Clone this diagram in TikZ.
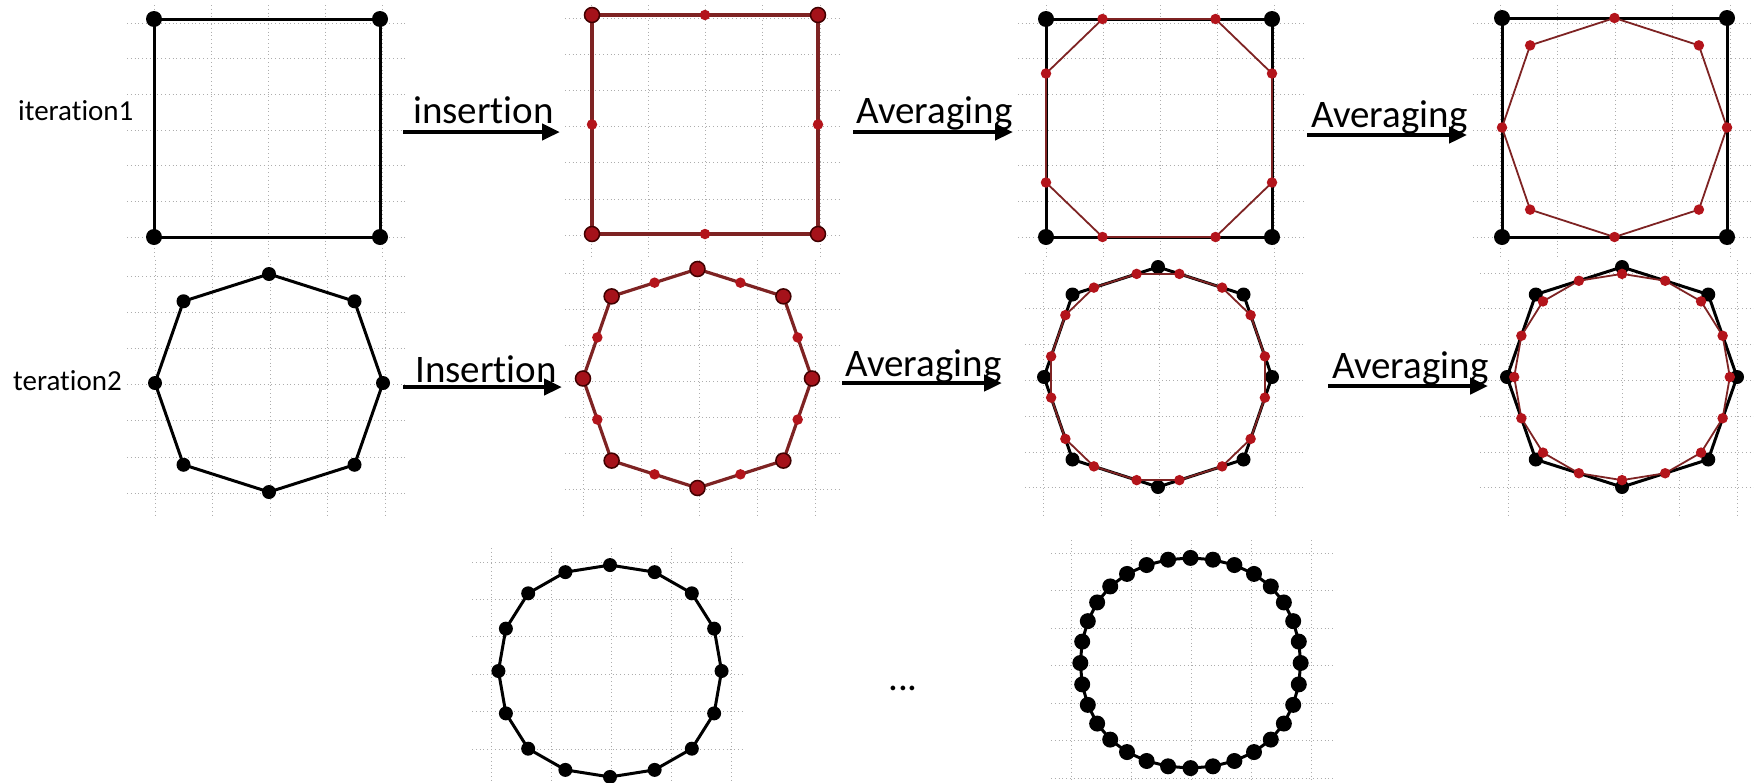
\documentclass[tikz,border=0pt]{standalone}
\usepackage{fontspec}
\setmainfont{Carlito}[Ligatures={NoCommon}]
\usetikzlibrary{arrows.meta,calc}
\definecolor{rdot}{HTML}{B3141B}
\definecolor{rline}{HTML}{7E2323}
\definecolor{rbigfill}{HTML}{A5121A}
\definecolor{gridc}{HTML}{ADADAD}
\tikzset{
 gridl/.style={gridc, line width=0.9pt, dash pattern=on 1pt off 2.8pt},
 blk/.style={black, line width=3pt, line cap=round, line join=round},
 rthick/.style={rline, line width=3.2pt, line cap=round},
 rthin/.style={rline, line width=1.8pt, line cap=round},
 bdot/.style={circle, fill=black, inner sep=0pt, minimum size=16pt},
 bdotm/.style={circle, fill=black, inner sep=0pt, minimum size=14pt},
 rbig/.style={circle, fill=rbigfill, draw=black!75!red, line width=1.5pt, inner sep=0pt, minimum size=15pt},
 rsm/.style={circle, fill=rdot, inner sep=0pt, minimum size=10.5pt},
 lbl/.style={font=\fontsize{39}{47}\selectfont, anchor=base west, inner sep=0pt},
 itl/.style={font=\fontsize{29}{35}\selectfont, anchor=base west, inner sep=0pt},
 flow/.style={line width=4.5pt, -{Triangle[length=18pt,width=16pt]}},
}
\newcommand\mygrid[8]{%
 \foreach \k in {0,...,6}{\draw[gridl] (#1,{#3+\k*#4}) -- (#2,{#3+\k*#4});}%
 \foreach \k in {0,...,4}{\draw[gridl] ({#5+\k*#6},#7) -- ({#5+\k*#6},#8);}%
}
\newcommand\pts[2]{\foreach \px/\py [count=\i] in #2 {\coordinate (#1-\i) at (\px,\py);}}
\newcommand\ring[3]{\foreach \i in {1,...,#2}{\pgfmathtruncatemacro\j{mod(\i,#2)+1}\draw[#3] (#1-\i) -- (#1-\j);}}
\newcommand\dotring[3]{\foreach \i in {1,...,#2}{\node[#3] (#1d-\i) at (#1-\i) {};}}
\def\Sfour{0/0,1/0,1/1,0/1}
\def\Seight{0/0,0.5/0,1/0,1/0.5,1/1,0.5/1,0/1,0/0.5}
\def\Ceight{0.25/0,0.75/0,1/0.25,1/0.75,0.75/1,0.25/1,0/0.75,0/0.25}
\def\Oeight{0.5/0,0.875/0.125,1/0.5,0.875/0.875,0.5/1,0.125/0.875,0/0.5,0.125/0.125}
\def\Osixteen{0.5/0,0.6875/0.0625,0.875/0.125,0.9375/0.3125,1/0.5,0.9375/0.6875,0.875/0.875,0.6875/0.9375,0.5/1,0.3125/0.9375,0.125/0.875,0.0625/0.6875,0/0.5,0.0625/0.3125,0.125/0.125,0.3125/0.0625}
\def\Csixteen{0.59375/0.03125,0.78125/0.09375,0.90625/0.21875,0.96875/0.40625,0.96875/0.59375,0.90625/0.78125,0.78125/0.90625,0.59375/0.96875,0.40625/0.96875,0.21875/0.90625,0.09375/0.78125,0.03125/0.59375,0.03125/0.40625,0.09375/0.21875,0.21875/0.09375,0.40625/0.03125}
\def\Asixteen{0.5/0.03125,0.6875/0.0625,0.84375/0.15625,0.9375/0.3125,0.96875/0.5,0.9375/0.6875,0.84375/0.84375,0.6875/0.9375,0.5/0.96875,0.3125/0.9375,0.15625/0.84375,0.0625/0.6875,0.03125/0.5,0.0625/0.3125,0.15625/0.15625,0.3125/0.0625}
\begin{document}
\begin{tikzpicture}[x=1pt,y=-1pt]
\useasboundingbox[fill=white] (0,0) rectangle (1754,782);
% grids
\mygrid{127}{405}{23}{35.7}{154}{57}{5}{257}
\mygrid{565}{842}{18}{36.2}{591}{57.3}{5}{257}
\mygrid{1018}{1306}{23}{35.7}{1046}{57}{5}{257}
\mygrid{1473}{1754}{23}{35.7}{1500}{57.5}{5}{257}
\mygrid{127}{408}{276}{36.2}{155}{57.5}{260}{515}
\mygrid{565}{840}{273}{36}{583}{58}{260}{515}
\mygrid{1025}{1305}{273}{35.8}{1043}{58}{260}{515}
\mygrid{1480}{1754}{273}{35.8}{1508}{57.3}{260}{515}
\mygrid{472}{745}{562}{37.4}{491}{60}{548}{782}
\mygrid{1051}{1333}{553}{37.5}{1071}{60}{540}{782}
% labels
\node[itl] (it1) at (18,120) {iteration1};
\node[itl] (it2) at (13,390) {teration2};
% row 1 panel 1
\begin{scope}[shift={(154,19)}, x=226pt, y=-218pt]
 \pts{pa}{\Sfour}
 \ring{pa}{4}{blk}
 \dotring{pa}{4}{bdot}
\end{scope}
% row 1 panel 2
\begin{scope}[shift={(592,15)}, x=226pt, y=-219pt]
 \pts{pb}{\Seight}
 \ring{pb}{8}{rthick}
 \foreach \i in {1,3,5,7}{\node[rbig] (pbd-\i) at (pb-\i) {};}
 \foreach \i in {2,4,6,8}{\node[rsm] (pbd-\i) at (pb-\i) {};}
\end{scope}
% row 1 panel 3
\begin{scope}[shift={(1046,19)}, x=226pt, y=-218pt]
 \pts{pc}{\Sfour}
 \pts{qc}{\Ceight}
 \ring{pc}{4}{blk}
 \ring{qc}{8}{rthin}
 \dotring{pc}{4}{bdot}
 \dotring{qc}{8}{rsm}
\end{scope}
% row 1 panel 4
\begin{scope}[shift={(1502,18)}, x=225pt, y=-219pt]
 \pts{pd}{\Sfour}
 \pts{qd}{\Oeight}
 \ring{pd}{4}{blk}
 \ring{qd}{8}{rthin}
 \dotring{pd}{4}{bdot}
 \dotring{qd}{8}{rsm}
\end{scope}
% row 2 panel 1
\begin{scope}[shift={(155,274)}, x=228pt, y=-218pt]
 \pts{pe}{\Oeight}
 \ring{pe}{8}{blk}
 \dotring{pe}{8}{bdotm}
\end{scope}
% row 2 panel 2
\begin{scope}[shift={(583,269)}, x=229pt, y=-219pt]
 \pts{pf}{\Osixteen}
 \ring{pf}{16}{rthick}
 \foreach \i in {1,3,...,15}{\node[rbig] (pfd-\i) at (pf-\i) {};}
 \foreach \i in {2,4,...,16}{\node[rsm] (pfd-\i) at (pf-\i) {};}
\end{scope}
% row 2 panel 3
\begin{scope}[shift={(1044,267)}, x=228pt, y=-220pt]
 \pts{pg}{\Oeight}
 \pts{qg}{\Csixteen}
 \ring{pg}{8}{blk}
 \dotring{pg}{8}{bdotm}
 \ring{qg}{16}{rthin}
 \dotring{qg}{16}{rsm}
\end{scope}
% row 2 panel 4
\begin{scope}[shift={(1507,267)}, x=230pt, y=-220pt]
 \pts{ph}{\Oeight}
 \pts{qh}{\Asixteen}
 \ring{ph}{8}{blk}
 \dotring{ph}{8}{bdotm}
 \ring{qh}{16}{rthin}
 \dotring{qh}{16}{rsm}
\end{scope}
% row 3 A
\begin{scope}[shift={(491,558)}, x=238pt, y=-226pt]
 \pts{pi}{\Asixteen}
 \ring{pi}{16}{blk}
 \dotring{pi}{16}{bdotm}
\end{scope}
% row 3 B
\begin{scope}[shift={(1071,549)}, x=239pt, y=-228pt]
 \pts{qb}{\Asixteen}
 \foreach \i in {1,...,16}{
  \pgfmathtruncatemacro\pv{mod(\i+14,16)+1}
  \pgfmathtruncatemacro\nx{mod(\i,16)+1}
  \pgfmathtruncatemacro\ka{2*\i-1}
  \pgfmathtruncatemacro\kb{2*\i}
  \coordinate (pj-\ka) at ($0.125*(qb-\pv)+0.75*(qb-\i)+0.125*(qb-\nx)$);
  \coordinate (pj-\kb) at ($(qb-\i)!0.5!(qb-\nx)$);
 }
 \ring{pj}{32}{blk}
 \dotring{pj}{32}{bdot}
\end{scope}
\node[lbl] (ell) at (888,690) {...};
% arrows
\coordinate (a1s) at (403,132); \coordinate (a1e) at (560,132);
\coordinate (a2s) at (853,132); \coordinate (a2e) at (1013,132);
\coordinate (a3s) at (1307,135); \coordinate (a3e) at (1467,135);
\coordinate (a4s) at (403,387); \coordinate (a4e) at (562,387);
\coordinate (a5s) at (842,383); \coordinate (a5e) at (1002,383);
\coordinate (a6s) at (1328,386); \coordinate (a6e) at (1488,386);
\draw[flow] (a1s) -- (a1e);
\draw[flow] (a2s) -- (a2e);
\draw[flow] (a3s) -- (a3e);
\draw[flow] (a4s) -- (a4e);
\draw[flow] (a5s) -- (a5e);
\draw[flow] (a6s) -- (a6e);
\node[lbl] (t1) at (413,123) {insertion};
\node[lbl] (t2) at (856,123) {Averaging};
\node[lbl] (t3) at (1311,127) {Averaging};
\node[lbl] (t4) at (415,382) {Insertion};
\node[lbl] (t5) at (845,376) {Averaging};
\node[lbl] (t6) at (1332,378) {Averaging};
\end{tikzpicture}
\end{document}
